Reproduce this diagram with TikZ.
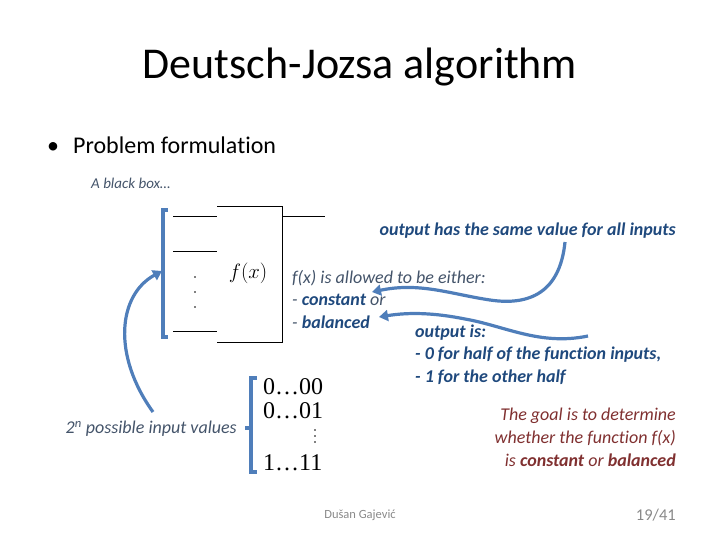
\documentclass[tikz,border=0pt]{standalone}
\usepackage{fontspec}
\setmainfont{Carlito}[Ligatures=NoCommon]
\newfontfamily\bitfont{Liberation Serif}
\usetikzlibrary{arrows.meta}
\definecolor{linkblue}{RGB}{79,126,186}
\definecolor{greyblue}{RGB}{68,84,106}
\definecolor{darkblue}{RGB}{31,73,125}
\definecolor{darkred}{RGB}{128,48,48}
\definecolor{footgrey}{RGB}{137,137,137}
\tikzset{
  txt/.style={inner sep=0pt, anchor=west},
  rtxt/.style={inner sep=0pt, anchor=east},
  wire/.style={line width=0.9pt, black},
  bluebar/.style={line width=3.2pt, linkblue},
  bluearrow/.style={line width=3.2pt, linkblue, -{Triangle[length=9pt,width=11pt]}},
  mid/.style={font=\fontsize{18}{21}\selectfont\itshape},
  bits/.style={inner sep=0pt, anchor=west, font=\bitfont\fontsize{24}{26}\selectfont},
}
\begin{document}
\begin{tikzpicture}[x=1pt,y=-1pt]
\useasboundingbox (0,0) rectangle (720,540);
% title
\node[inner sep=0pt] (title) at (360,67) {\fontsize{44}{52}\selectfont Deutsch-Jozsa algorithm};
\node[txt] (bullet) at (47,145) {\fontsize{24}{28}\selectfont \textbullet\hspace{14pt}Problem formulation};
\node[txt, greyblue] (bbox) at (91,183) {\fontsize{15}{18}\selectfont\itshape A black box\ldots};
% black box
\draw[wire] (217,206) -- (282,206) -- (282,342) -- (217,342);
\draw[wire] (173,216) -- (217,216);
\draw[wire] (173,251) -- (217,251);
\draw[wire] (173,331) -- (217,331);
\draw[wire] (282,216) -- (325,216);
\fill (195,277) circle (0.9);
\fill (195,292) circle (0.9);
\fill (195,307) circle (0.9);
\node[inner sep=0pt] (fx) at (248,273) {\fontsize{21}{24}\selectfont $f(x)$};
% left blue bracket
\draw[bluebar] (168,210) -- (163,210) -- (163,337) -- (168,337);
\coordinate (brk) at (162,271);
\coordinate (lstart) at (153,412);
\draw[bluearrow] (lstart) .. controls (112,355) and (118,295) .. (brk);
% f(x) description
\node[txt, greyblue, mid] (allowed) at (292,278) {f(x) is allowed to be either:};
\node[txt, greyblue, mid] (const) at (292,300) {- \textcolor{darkblue}{\bfseries constant} or};
\node[txt, greyblue, mid] (bal) at (292,322) {- \textcolor{darkblue}{\bfseries balanced}};
% output descriptions
\node[rtxt, darkblue, mid] (same) at (676,231) {\bfseries output has the same value for all inputs};
\node[txt, darkblue, mid] (outis) at (415,333) {\bfseries output is:};
\node[txt, darkblue, mid] (zero) at (415,355) {\bfseries - 0 for half of the function inputs,};
\node[txt, darkblue, mid] (one) at (415,377) {\bfseries - 1 for the other half};
\coordinate (a1s) at (565,242);
\coordinate (a1e) at (372,292);
\draw[bluearrow] (a1s) .. controls (560,292) and (530,306) .. (490,300) .. controls (450,294) and (420,282) .. (a1e);
\coordinate (a2s) at (588,336);
\coordinate (a2e) at (379,317);
\draw[bluearrow] (a2s) .. controls (540,346) and (505,326) .. (465,319) .. controls (435,313) and (410,312) .. (a2e);
% input values
\node[rtxt, greyblue, mid] (poss) at (237,429) {2\textsuperscript{n} possible input values};
\draw[bluebar] (257,378) -- (251,378) -- (251,472) -- (257,472);
\draw[bluebar] (245,428) -- (251,428);
\node[bits] (b1) at (263,387) {0…00};
\node[bits] (b2) at (263,411) {0…01};
\fill (315,430) circle (0.9);
\fill (315,436) circle (0.9);
\fill (315,442) circle (0.9);
\node[bits] (b3) at (263,463) {1…11};
% goal
\node[rtxt, darkred, mid] (g1) at (676,416) {The goal is to determine};
\node[rtxt, darkred, mid] (g2) at (676,438) {whether the function f(x)};
\node[rtxt, darkred, mid] (g3) at (676,460) {is \textbf{constant} or \textbf{balanced}};
% footer
\node[inner sep=0pt, footgrey] (author) at (360,515) {\fontsize{12.5}{15}\selectfont Dušan Gajević};
\node[rtxt, footgrey] (page) at (676,515) {\fontsize{16.5}{19}\selectfont 19/41};
\end{tikzpicture}
\end{document}
